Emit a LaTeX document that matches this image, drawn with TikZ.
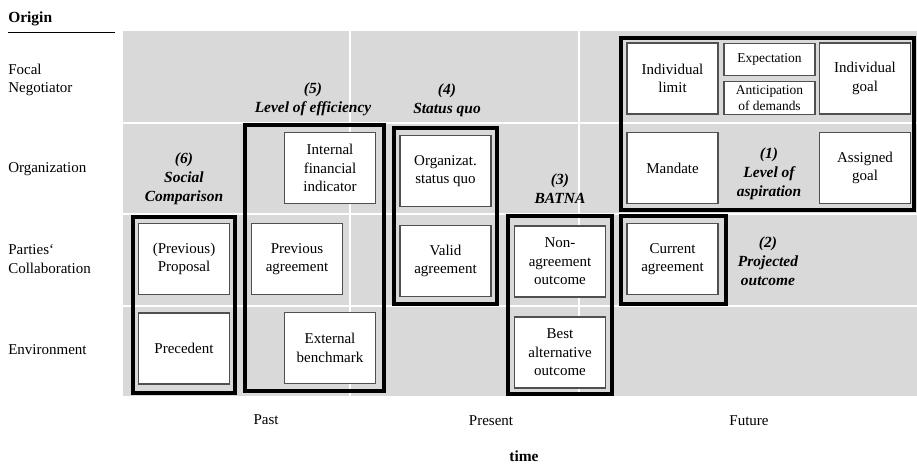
\documentclass[tikz,border=0pt]{standalone}
\usepackage{fontspec}
\setmainfont{Liberation Serif}
\usetikzlibrary{positioning}
\definecolor{cellgrey}{RGB}{217,217,217}
\definecolor{framegrey}{RGB}{80,80,80}

\begin{document}
\begin{tikzpicture}[
    x=0.75pt, y=-0.75pt,
    every node/.style={font=\fontsize{11.25}{13.9}\selectfont},
    cell/.style={rectangle, draw=framegrey, line width=0.8pt, fill=white, minimum width=68.25pt, minimum height=53.25pt, inner sep=1pt, align=center},
    smallcell/.style={cell, minimum height=24.5pt, font=\fontsize{10.1}{11.6}\selectfont},
    group/.style={draw=black, line width=2.4pt},
    title/.style={align=center, font=\fontsize{11.6}{14.2}\selectfont\bfseries\itshape},
    origin/.style={anchor=west, align=left, inner sep=0pt},
]
    \useasboundingbox (0,0) rectangle (917,464);

    % Grid background
    \fill[cellgrey] (123,31) rectangle (917,396);
    \draw[white, line width=2.2pt] (350,31) -- (350,396) (579,31) -- (579,396)
        (123,123) -- (917,123) (123,214) -- (917,214) (123,306) -- (917,306);

    % Origin axis
    \node[origin, font=\fontsize{11.6}{13.9}\selectfont\bfseries] (origin) at (8,19) {Origin};
    \draw[line width=0.75pt] (8,32) -- (115,32);
    \node[origin] (focal) at (8,80) {Focal\\Negotiator};
    \node[origin] (orga) at (8,169) {Organization};
    \node[origin] (parties) at (8,259) {Parties‘\\Collaboration};
    \node[origin] (environ) at (8,350) {Environment};

    % Time axis
    \node (past) at (266,420) {Past};
    \node (present) at (491,421) {Present};
    \node (future) at (749,421) {Future};
    \node[inner sep=0pt, font=\fontsize{11.6}{13.9}\selectfont\bfseries] (time) at (524,456) {time};

    % Reference points
    \node[cell] (proposal) at (184,259) {(Previous)\\Proposal};
    \node[cell] (precedent) at (184,348.5) {Precedent};
    \node[cell] (internal) at (330,168) {Internal\\financial\\indicator};
    \node[cell] (prevagr) at (297,259) {Previous\\agreement};
    \node[cell] (external) at (330,348) {External\\benchmark};
    \node[cell] (orgsq) at (445.5,171) {Organizat.\\status quo};
    \node[cell] (valid) at (445.5,261) {Valid\\agreement};
    \node[cell] (nonagr) at (560,261.5) {Non-\\agreement\\outcome};
    \node[cell] (bestalt) at (560,352.5) {Best\\alternative\\outcome};
    \node[cell] (current) at (672.5,259) {Current\\agreement};
    \node[cell] (limit) at (672.5,78.5) {Individual\\limit};
    \node[smallcell] (expect) at (769.5,59.5) {Expectation};
    \node[smallcell] (anticip) at (769.5,98) {Anticipation\\of demands};
    \node[cell] (indgoal) at (865,78.5) {Individual\\goal};
    \node[cell] (mandate) at (672.5,168) {Mandate};
    \node[cell] (assigned) at (865,168) {Assigned\\goal};

    % Groups
    \draw[group] (133,217) rectangle (235,393);
    \draw[group] (245,125) rectangle (384,391);
    \draw[group] (394,128) rectangle (497,304);
    \draw[group] (508,216) rectangle (612,394);
    \draw[group] (621,216) rectangle (726,304);
    \draw[group] (621,38) rectangle (914,210);

    \node[title] (t1) at (769,174) {(1)\\Level of\\aspiration};
    \node[title] (t2) at (768,261) {(2)\\Projected\\outcome};
    \node[title] (t3) at (560,189) {(3)\\BATNA};
    \node[title] (t4) at (447,100) {(4)\\Status quo};
    \node[title] (t5) at (313,99) {(5)\\Level of efficiency};
    \node[title] (t6) at (184,179) {(6)\\Social\\Comparison};
\end{tikzpicture}
\end{document}
